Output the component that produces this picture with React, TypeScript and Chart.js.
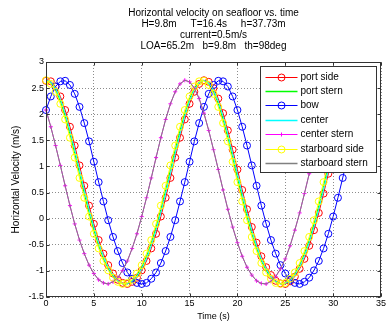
import React, { useEffect, useRef } from "react";
import { Chart, registerables } from "chart.js";

Chart.register(...registerables);

const TITLE_LINES = [
  "Horizontal velocity on seafloor vs. time",
  "H=9.8m     T=16.4s     h=37.73m",
  "current=0.5m/s",
  "LOA=65.2m   b=9.8m   th=98deg",
];

const X_LABEL = "Time (s)";
const Y_LABEL = "Horizontal Velocity (m/s)";
const X_TICKS = [0, 5, 10, 15, 20, 25, 30, 35];
const Y_TICKS = [-1.5, -1, -0.5, 0, 0.5, 1, 1.5, 2, 2.5, 3];

const TIME = [
  0, 0.5, 1, 1.5, 2, 2.5, 3, 3.5, 4, 4.5, 5, 5.5, 6, 6.5, 7, 7.5, 8, 8.5, 9, 9.5,
  10, 10.5, 11, 11.5, 12, 12.5, 13, 13.5, 14, 14.5, 15, 15.5, 16, 16.5, 17, 17.5,
  18, 18.5, 19, 19.5, 20, 20.5, 21, 21.5, 22, 22.5, 23, 23.5, 24, 24.5, 25, 25.5,
  26, 26.5, 27, 27.5, 28, 28.5, 29, 29.5, 30, 30.5, 31, 31.5, 32,
];

const PORT_SIDE = [
  2.64, 2.63, 2.53, 2.34, 2.08, 1.76, 1.4, 1.02, 0.63, 0.25, -0.1, -0.41, -0.67, -0.89,
  -1.05, -1.17, -1.23, -1.25, -1.21, -1.13, -0.99, -0.81, -0.57, -0.29, 0.04, 0.4, 0.78,
  1.17, 1.55, 1.9, 2.2, 2.43, 2.58, 2.65, 2.62, 2.5, 2.3, 2.02, 1.69, 1.32, 0.94, 0.55,
  0.18, -0.16, -0.46, -0.72, -0.93, -1.08, -1.19, -1.24, -1.25, -1.2, -1.11, -0.96,
  -0.77, -0.52, -0.22, 0.11, 0.48, 0.86, 1.25, 1.62, 1.96, 2.25, 2.47,
];

const PORT_STERN = [
  2.65, 2.6, 2.47, 2.25, 1.96, 1.62, 1.25, 0.86, 0.48, 0.11, -0.22, -0.52, -0.77, -0.96,
  -1.11, -1.2, -1.25, -1.24, -1.19, -1.08, -0.93, -0.72, -0.46, -0.16, 0.18, 0.55, 0.94,
  1.32, 1.69, 2.02, 2.3, 2.5, 2.62, 2.65, 2.58, 2.43, 2.2, 1.9, 1.55, 1.17, 0.78, 0.4,
  0.04, -0.29, -0.57, -0.81, -0.99, -1.13, -1.21, -1.25, -1.23, -1.17, -1.05, -0.89,
  -0.67, -0.41, -0.1, 0.25, 0.63, 1.02, 1.4, 1.76, 2.08, 2.34, 2.53,
];

const BOW = [
  2.08, 2.34, 2.53, 2.63, 2.64, 2.56, 2.39, 2.14, 1.83, 1.48, 1.09, 0.7, 0.33, -0.03,
  -0.35, -0.62, -0.85, -1.03, -1.15, -1.23, -1.25, -1.23, -1.15, -1.03, -0.85, -0.62,
  -0.35, -0.03, 0.33, 0.7, 1.09, 1.48, 1.83, 2.14, 2.39, 2.56, 2.64, 2.63, 2.53, 2.34,
  2.08, 1.76, 1.4, 1.02, 0.63, 0.25, -0.1, -0.41, -0.67, -0.89, -1.05, -1.17, -1.23,
  -1.25, -1.21, -1.13, -0.99, -0.81, -0.57, -0.29, 0.04, 0.4, 0.78, 1.17, 1.55,
];

const CENTER = [
  2.65, 2.62, 2.5, 2.3, 2.02, 1.69, 1.32, 0.94, 0.55, 0.18, -0.16, -0.46, -0.72, -0.93,
  -1.08, -1.19, -1.24, -1.25, -1.2, -1.11, -0.96, -0.77, -0.52, -0.22, 0.11, 0.48, 0.86,
  1.25, 1.62, 1.96, 2.25, 2.47, 2.6, 2.65, 2.6, 2.47, 2.25, 1.96, 1.62, 1.25, 0.86, 0.48,
  0.11, -0.22, -0.52, -0.77, -0.96, -1.11, -1.2, -1.25, -1.24, -1.19, -1.08, -0.93,
  -0.72, -0.46, -0.16, 0.18, 0.55, 0.94, 1.32, 1.69, 2.02, 2.3, 2.5,
];

const CENTER_STERN = [
  2.08, 1.76, 1.4, 1.02, 0.63, 0.25, -0.1, -0.41, -0.67, -0.89, -1.05, -1.17, -1.23,
  -1.25, -1.21, -1.13, -0.99, -0.81, -0.57, -0.29, 0.04, 0.4, 0.78, 1.17, 1.55, 1.9, 2.2,
  2.43, 2.58, 2.65, 2.62, 2.5, 2.3, 2.02, 1.69, 1.32, 0.94, 0.55, 0.18, -0.16, -0.46,
  -0.72, -0.93, -1.08, -1.19, -1.24, -1.25, -1.2, -1.11, -0.96, -0.77, -0.52, -0.22,
  0.11, 0.48, 0.86, 1.25, 1.62, 1.96, 2.25, 2.47, 2.6, 2.65, 2.6, 2.47,
];

const STARBOARD_SIDE = [
  2.65, 2.58, 2.43, 2.2, 1.9, 1.55, 1.17, 0.78, 0.4, 0.04, -0.29, -0.57, -0.81, -0.99,
  -1.13, -1.21, -1.25, -1.23, -1.17, -1.05, -0.89, -0.67, -0.41, -0.1, 0.25, 0.63, 1.02,
  1.4, 1.76, 2.08, 2.34, 2.53, 2.63, 2.64, 2.56, 2.39, 2.14, 1.83, 1.48, 1.09, 0.7, 0.33,
  -0.03, -0.35, -0.62, -0.85, -1.03, -1.15, -1.23, -1.25, -1.23, -1.15, -1.03, -0.85,
  -0.62, -0.35, -0.03, 0.33, 0.7, 1.09, 1.48, 1.83, 2.14, 2.39, 2.56,
];

const STARBOARD_STERN = [
  2.08, 1.76, 1.4, 1.02, 0.63, 0.25, -0.1, -0.41, -0.67, -0.89, -1.05, -1.17, -1.23,
  -1.25, -1.21, -1.13, -0.99, -0.81, -0.57, -0.29, 0.04, 0.4, 0.78, 1.17, 1.55, 1.9, 2.2,
  2.43, 2.58, 2.65, 2.62, 2.5, 2.3, 2.02, 1.69, 1.32, 0.94, 0.55, 0.18, -0.16, -0.46,
  -0.72, -0.93, -1.08, -1.19, -1.24, -1.25, -1.2, -1.11, -0.96, -0.77, -0.52, -0.22,
  0.11, 0.48, 0.86, 1.25, 1.62, 1.96, 2.25, 2.47, 2.6, 2.65, 2.6, 2.47,
];

type Series = { label: string; values: number[]; color: string; marker: string | null; radius: number };

const SERIES: Series[] = [
  { label: "port side", values: PORT_SIDE, color: "#ff0000", marker: "circle", radius: 3.5 },
  { label: "port stern", values: PORT_STERN, color: "#00ff00", marker: null, radius: 0 },
  { label: "bow", values: BOW, color: "#0000ff", marker: "circle", radius: 3.5 },
  { label: "center", values: CENTER, color: "#00ffff", marker: null, radius: 0 },
  { label: "center stern", values: CENTER_STERN, color: "#ff00ff", marker: "cross", radius: 2 },
  { label: "starboard side", values: STARBOARD_SIDE, color: "#ffff00", marker: "circle", radius: 3.5 },
  { label: "starboard stern", values: STARBOARD_STERN, color: "#808080", marker: null, radius: 0 },
];

const FONT = '"Liberation Sans", Arial, Helvetica, sans-serif';

function drawMarker(ctx: CanvasRenderingContext2D, s: Series, x: number, y: number) {
  if (!s.marker) return;
  ctx.beginPath();
  if (s.marker === "circle") {
    ctx.arc(x, y, s.radius, 0, Math.PI * 2);
  } else {
    ctx.moveTo(x - s.radius, y);
    ctx.lineTo(x + s.radius, y);
    ctx.moveTo(x, y - s.radius);
    ctx.lineTo(x, y + s.radius);
  }
  ctx.stroke();
}

const decorPlugin = {
  id: "matlabDecor",
  afterDatasetsDraw(chart: any) {
    const { ctx, chartArea: a, scales } = chart;
    const xs = scales.x;
    const ys = scales.y;
    ctx.save();
    ctx.strokeStyle = "#333333";
    ctx.lineWidth = 1;
    const L = Math.round(a.left) + 0.5;
    const R = Math.round(a.right) - 0.5;
    const T = Math.round(a.top) + 0.5;
    const B = Math.round(a.bottom) - 0.5;
    ctx.strokeRect(L, T, R - L, B - T);
    ctx.beginPath();
    X_TICKS.forEach((v) => {
      const px = Math.round(xs.getPixelForValue(v)) + 0.5;
      ctx.moveTo(px, B);
      ctx.lineTo(px, B - 3);
      ctx.moveTo(px, T);
      ctx.lineTo(px, T + 3);
    });
    Y_TICKS.forEach((v) => {
      const py = Math.round(ys.getPixelForValue(v)) + 0.5;
      ctx.moveTo(L, py);
      ctx.lineTo(L + 3, py);
      ctx.moveTo(R, py);
      ctx.lineTo(R - 3, py);
    });
    ctx.stroke();
    ctx.restore();
  },
  afterDraw(chart: any) {
    const { ctx, chartArea: a } = chart;
    ctx.save();
    // title
    ctx.fillStyle = "#000";
    ctx.font = `10px ${FONT}`;
    ctx.textAlign = "center";
    ctx.textBaseline = "middle";
    const cx = (a.left + a.right) / 2;
    TITLE_LINES.forEach((line, i) => {
      ctx.fillText(line, cx, 13 + i * 11);
    });
    // legend
    const bx = Math.round(a.right) - 120.5;
    const by = Math.round(a.top) + 4.5;
    const bw = 116;
    const bh = 106;
    ctx.fillStyle = "#ffffff";
    ctx.fillRect(bx, by, bw, bh);
    ctx.strokeStyle = "#333333";
    ctx.lineWidth = 1;
    ctx.strokeRect(bx, by, bw, bh);
    ctx.textAlign = "left";
    ctx.font = `10px ${FONT}`;
    SERIES.forEach((s, i) => {
      const y = Math.round(by + 10 + i * 14.4) + 0.5;
      ctx.strokeStyle = s.color;
      ctx.lineWidth = s.marker ? 1 : 1.5;
      ctx.beginPath();
      ctx.moveTo(bx + 5, y);
      ctx.lineTo(bx + 37, y);
      ctx.stroke();
      ctx.lineWidth = 1;
      drawMarker(ctx, s, bx + 21, y);
      ctx.fillStyle = "#000";
      ctx.fillText(s.label, bx + 40, y);
    });
    ctx.restore();
  },
};

export default function App() {
  const ref = useRef<HTMLCanvasElement | null>(null);
  useEffect(() => {
    if (!ref.current) return;
    Chart.defaults.font.family = FONT;
    Chart.defaults.color = "#000";
    const n = SERIES.length;
    const chart = new Chart(ref.current, {
      type: "line",
      data: {
        datasets: SERIES.map((s, i) => ({
          label: s.label,
          data: TIME.map((t, k) => ({ x: t, y: s.values[k] })),
          borderColor: s.color,
          backgroundColor: "rgba(0,0,0,0)",
          borderWidth: 1,
          tension: 0,
          pointStyle: s.marker ? (s.marker as any) : false,
          pointRadius: s.radius,
          pointBorderColor: s.color,
          pointBorderWidth: 1,
          pointBackgroundColor: "rgba(0,0,0,0)",
          clip: false as any,
          order: n - 1 - i,
        })),
      },
      options: {
        animation: false,
        responsive: false,
        devicePixelRatio: 1,
        events: [],
        layout: { padding: { top: 62, right: 3, bottom: 0, left: 0 } },
        plugins: {
          legend: { display: false },
          title: { display: false },
          tooltip: { enabled: false },
        },
        scales: {
          x: {
            type: "linear",
            min: 0,
            max: 35,
            afterBuildTicks: (scale: any) => {
              scale.ticks = X_TICKS.map((v) => ({ value: v }));
            },
            afterFit: (scale: any) => {
              scale.height = 26;
              scale.paddingLeft = 0;
              scale.paddingRight = 0;
            },
            ticks: {
              autoSkip: false,
              maxRotation: 0,
              padding: 1,
              font: { size: 9 },
              color: "#000",
              callback: (v: any) => String(v),
            },
            grid: { color: "rgba(0,0,0,0.45)", lineWidth: 1, drawTicks: false },
            border: { display: false, dash: [1, 2] },
            title: {
              display: true,
              text: X_LABEL,
              font: { size: 9 },
              color: "#000",
              padding: { top: 0, bottom: 1 },
            },
          },
          y: {
            type: "linear",
            min: -1.5,
            max: 3,
            afterBuildTicks: (scale: any) => {
              scale.ticks = Y_TICKS.map((v) => ({ value: v }));
            },
            afterFit: (scale: any) => {
              scale.width = 46;
              scale.paddingTop = 0;
              scale.paddingBottom = 0;
            },
            ticks: {
              autoSkip: false,
              padding: 2,
              font: { size: 9 },
              color: "#000",
              callback: (v: any) => String(v),
            },
            grid: { color: "rgba(0,0,0,0.45)", lineWidth: 1, drawTicks: false },
            border: { display: false, dash: [1, 2] },
            title: {
              display: true,
              text: Y_LABEL,
              font: { size: 10 },
              color: "#000",
              padding: { top: 10, bottom: 0 },
            },
          },
        },
      },
      plugins: [decorPlugin],
    });
    return () => chart.destroy();
  }, []);
  return (
    <div style={{ position: "absolute", left: 0, top: 0, width: 386, height: 323 }}>
      <canvas ref={ref} width={386} height={323} style={{ width: 386, height: 323, display: "block" }} />
    </div>
  );
}
